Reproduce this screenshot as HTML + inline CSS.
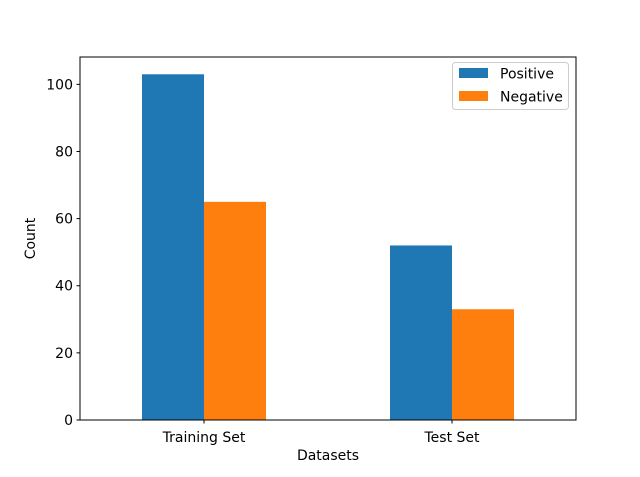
<!DOCTYPE html>
<html><head><meta charset="utf-8"><style>
html,body{margin:0;padding:0;background:#fff;}
svg text{font-family:"DejaVu Sans","Liberation Sans",sans-serif;font-size:14px;fill:#000;}
</style></head><body>
<svg id="chart" width="640" height="472" viewBox="0 0 640 472">
<rect x="0" y="0" width="640" height="472" fill="#fff"/>
<g id="bars"></g>
<g id="axes"></g>
</svg>
<script>
const categories = ["Training Set", "Test Set"];
const positiveValues = [103, 52];
const negativeValues = [65, 33];
const yTicks = [0, 20, 40, 60, 80, 100];
const seriesNames = ["Positive", "Negative"];

const L=80,R=576,T=57,B=420;
const yMax=Math.max(...positiveValues,...negativeValues)*1.05;
const y=v=>B-(v/yMax)*(B-T);
const unit=(R-L)/categories.length;
const x=i=>L+unit*(i+0.5);
const bw=unit/4;
const NS="http://www.w3.org/2000/svg";
const colors=["#1f77b4","#ff7f0e"];
function mk(tag,attrs,parent){const e=document.createElementNS(NS,tag);for(const k in attrs)e.setAttribute(k,attrs[k]);parent.appendChild(e);return e;}
const bars=document.getElementById('bars'), axes=document.getElementById('axes');
[positiveValues,negativeValues].forEach((vals,s)=>{
  vals.forEach((v,i)=>{
    const r=mk('rect',{x:x(i)-bw+s*bw,y:y(v),width:bw,height:B-y(v),fill:colors[s]},bars);
    
    
  });
});
const frame=mk('rect',{x:L,y:T,width:R-L,height:B-T,fill:'none',stroke:'#000','stroke-width':1},axes);


yTicks.forEach(t=>{
  mk('line',{x1:L-3.5,x2:L,y1:y(t),y2:y(t),stroke:'#000'},axes);
  const tx=mk('text',{x:L-7,y:y(t)+5,'text-anchor':'end'},axes);
  tx.textContent=t;
  
  
});
categories.forEach((c,i)=>{
  mk('line',{x1:x(i),x2:x(i),y1:B,y2:B+3.5,stroke:'#000'},axes);
  const tx=mk('text',{x:x(i),y:B+22,'text-anchor':'middle'},axes);
  tx.textContent=c;
  
  
});
const xt=mk('text',{x:(L+R)/2,y:460,'text-anchor':'middle'},axes);
xt.textContent='Datasets';


const yt=mk('text',{x:35,y:(T+B)/2,'text-anchor':'middle',transform:`rotate(-90 35 ${(T+B)/2})`},axes);
yt.textContent='Count';


const lg=mk('g',{},axes);


mk('rect',{x:452.5,y:62.5,width:116,height:47,rx:3,fill:'#fff',stroke:'#ccc','fill-opacity':0.8},lg);
seriesNames.forEach((n,s)=>{
  const yy=68+s*23;
  mk('rect',{x:459,y:yy,width:29,height:10,fill:colors[s]},lg);
  const t=mk('text',{x:500,y:yy+10.5},lg);
  t.textContent=n;
  
  
});
</script>
</body></html>
